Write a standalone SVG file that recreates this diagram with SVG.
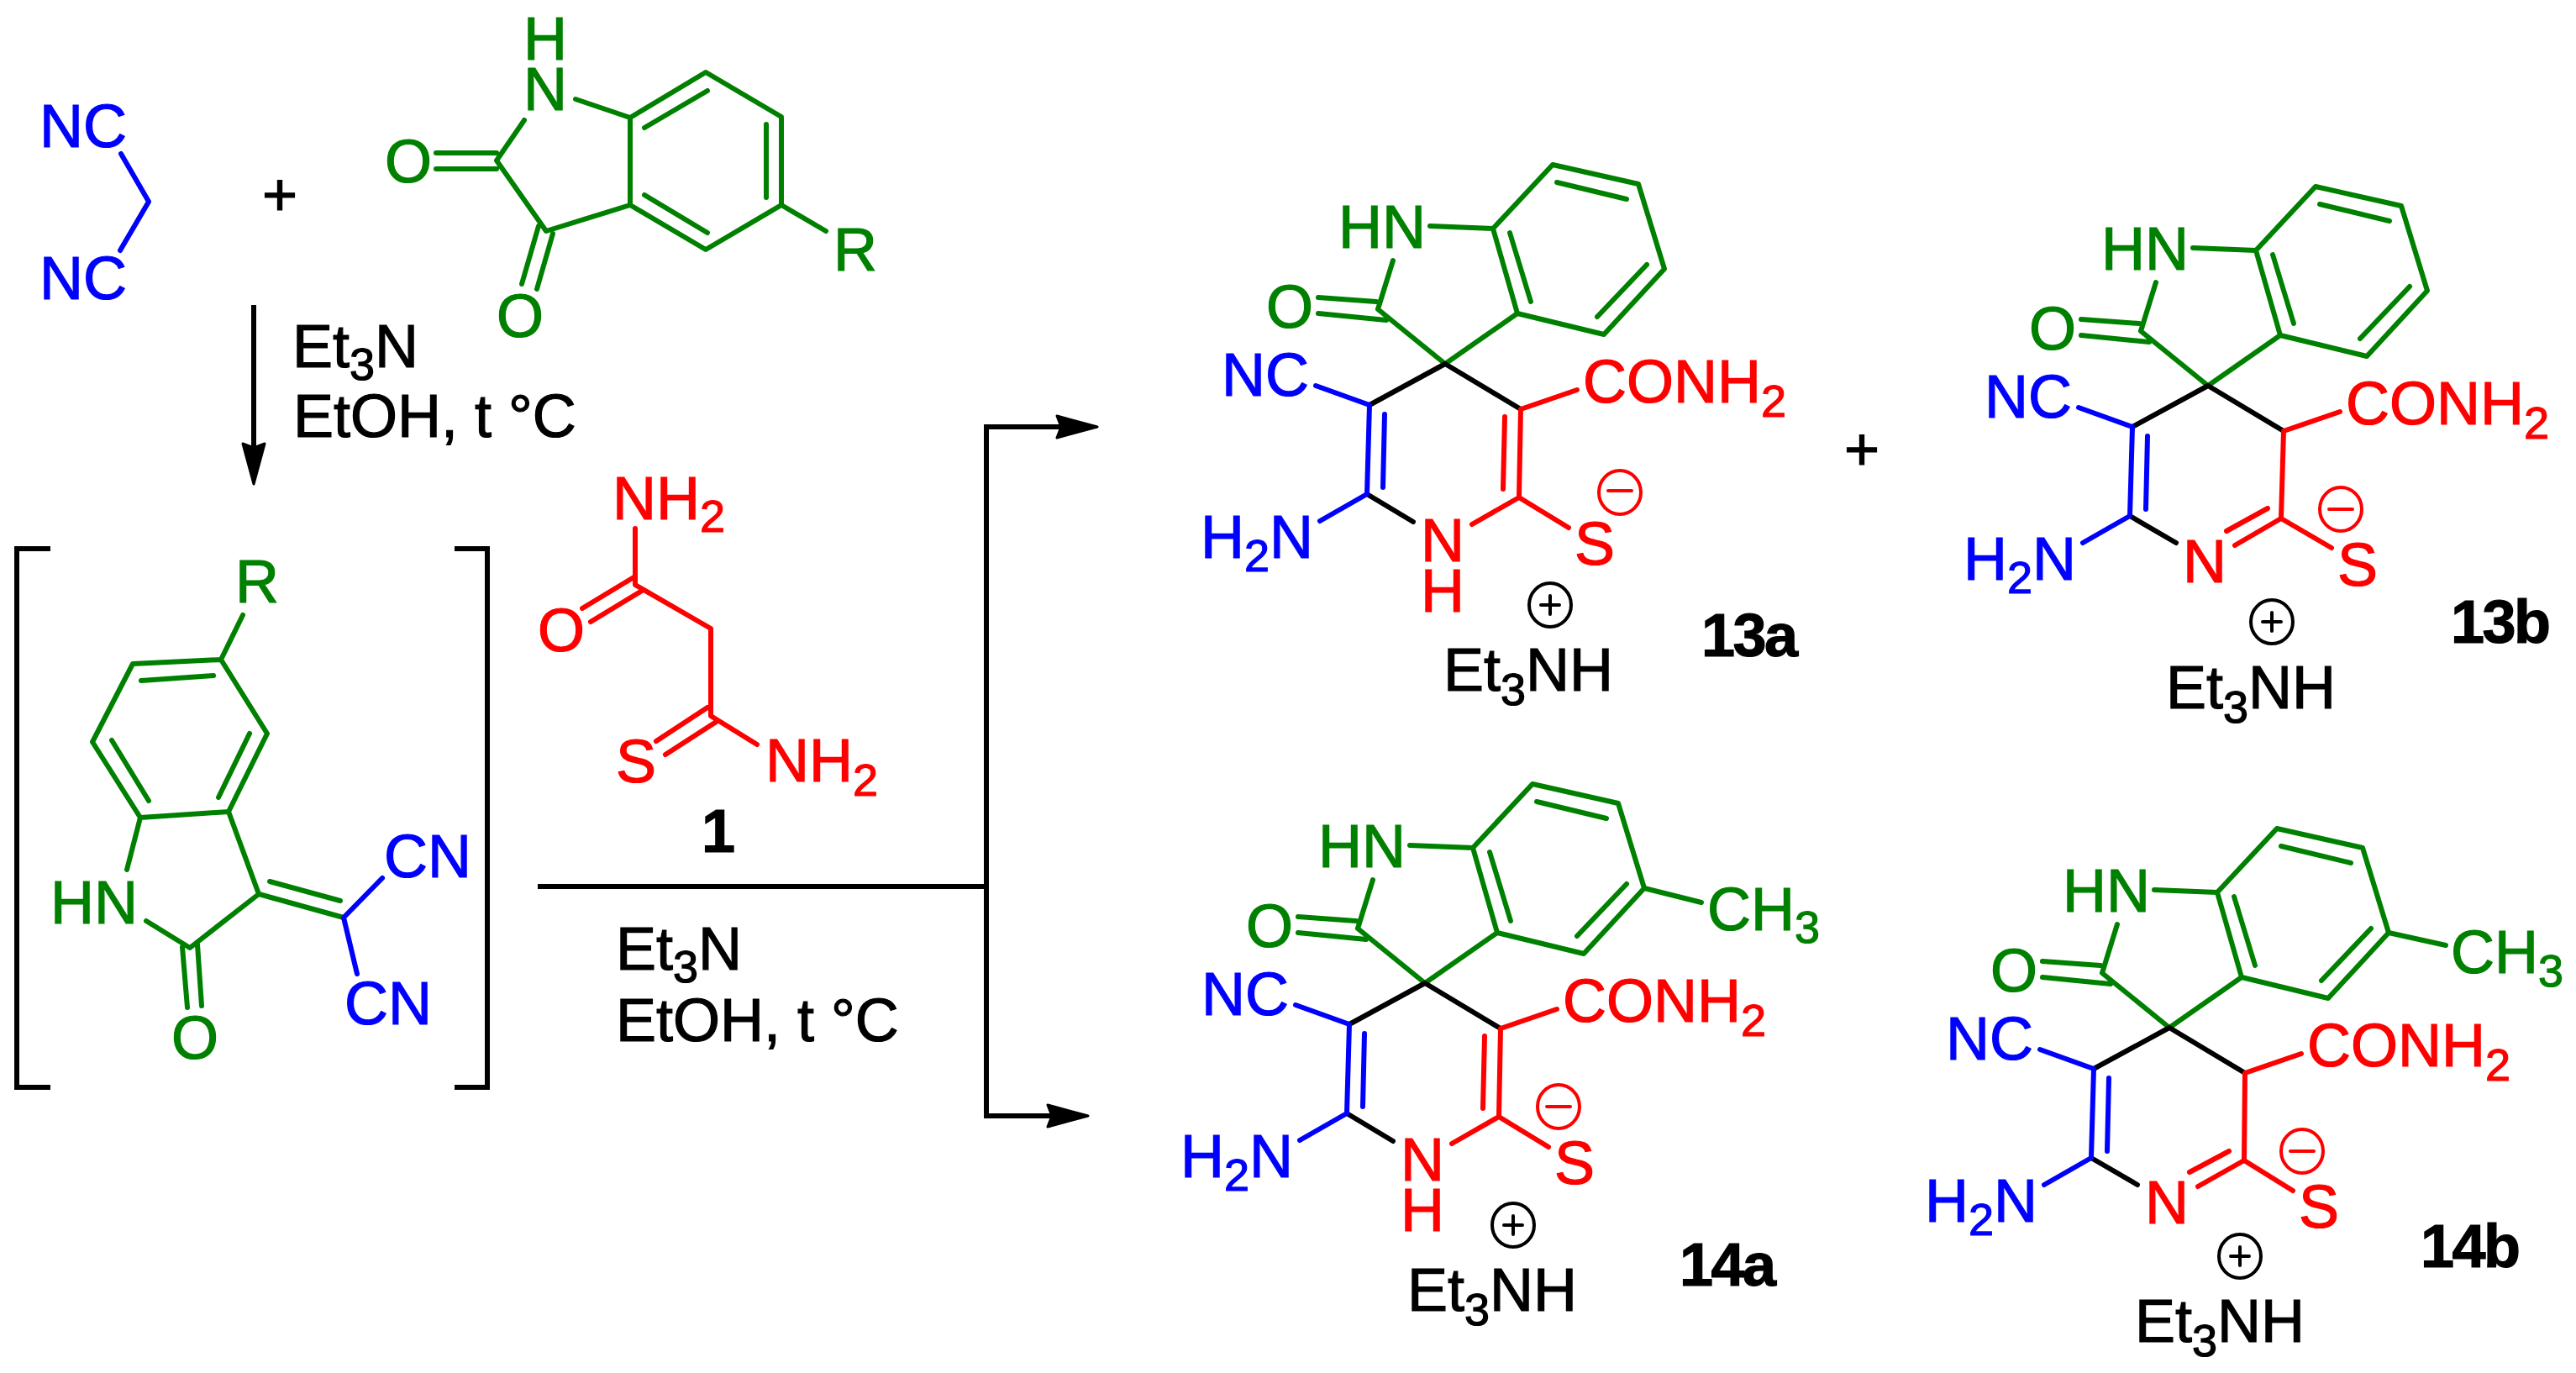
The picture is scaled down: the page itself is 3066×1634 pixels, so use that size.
<svg xmlns="http://www.w3.org/2000/svg" width="3066" height="1634" viewBox="0 0 3066 1634">
<style>
text{font-family:"Liberation Sans",Arial,sans-serif;font-size:72px;fill:#000;stroke:#000;stroke-width:1.2px}
.b{font-weight:bold;letter-spacing:-2.5px}
.s{font-size:54px}
.G{fill:#008000;stroke:#008000}.B{fill:#0000ff;stroke:#0000ff}.R{fill:#ff0000;stroke:#ff0000}
path,ellipse{fill:none;stroke-width:6;stroke-linejoin:round;stroke-linecap:round}
.lg{stroke:#008000}.lb{stroke:#0000ff}.lr{stroke:#ff0000}.lk{stroke:#000}
.c{stroke-width:4}
.con{stroke:#000;stroke-width:6;stroke-linecap:butt;stroke-linejoin:miter}
.ah{fill:#000;stroke:#000;stroke-width:3}
</style>
<defs>
<marker id="ah" markerUnits="userSpaceOnUse" markerWidth="54" markerHeight="34" refX="6" refY="17" orient="auto" viewBox="0 0 54 34">
<path class="ah" d="M50 17L2 4L7 17L2 30Z"/>
</marker>
</defs>
<rect width="3066" height="1634" fill="#fff"/>

<g id="connectors">
<path class="con" d="M302 363V532" marker-end="url(#ah)"/>
<path class="con" d="M640 1055H1174"/>
<path class="con" d="M1174 1328V508H1262" marker-end="url(#ah)"/>
<path class="con" d="M1171 1328H1251" marker-end="url(#ah)"/>
</g>

<g id="malononitrile">
<path class="lb" d="M144 183L177 240L143 298"/>
<text class="B" x="47" y="175">NC</text>
<text class="B" x="47" y="356">NC</text>
</g>
<g id="plus-1"><text x="312" y="256">+</text></g>
<g id="isatin">
<path class="lg" d="M685 118L750 140L840 86L930 139V244L840 297L750 244V140M767 152L842 108M912 148V235M767 232L842 277M750 244L650 275L591 191L624 143M519 182H591M519 201H591M641 269L621 338M658 278L639 344M930 244L983 275"/>
<text class="G" x="623" y="71">H</text>
<text class="G" x="623" y="131">N</text>
<text class="G" x="458" y="217">O</text>
<text class="G" x="591" y="401">O</text>
<text class="G" x="992" y="322">R</text>
</g>
<g id="conditions-1">
<text x="348" y="437">Et<tspan class="s" dy="15">3</tspan><tspan dy="-15">N</tspan></text>
<text x="349" y="520">EtOH, t °C</text>
</g>

<g id="bracket-left"><path class="con" d="M60 653H20V1294H60"/></g>
<g id="bracket-right"><path class="con" d="M541 653H580V1294H541"/></g>
<g id="intermediate">
<path class="lg" d="M289 732L263 785L158 790L110 883L167 973L272 966L318 873L263 785M168 810L254 804M133 881L177 953M297 873L260 949M167 973L151 1035M272 966L308 1064L226 1128L174 1096M217 1127L223 1199M235 1124L240 1197M308 1064L409 1092M321 1049L405 1072"/>
<path class="lb" d="M455 1045L409 1092L425 1159"/>
<text class="G" x="280" y="717">R</text>
<text class="G" x="60" y="1099">HN</text>
<text class="G" x="204" y="1260">O</text>
<text class="B" x="457" y="1044">CN</text>
<text class="B" x="410" y="1219">CN</text>
</g>

<g id="compound-1">
<path class="lr" d="M756 629V696L846 748V852L901 886M756 686L693 724M764 703L703 740M842 842L781 882M854 858L792 898"/>
<text class="R" x="729" y="618">NH<tspan class="s" dy="15">2</tspan></text>
<text class="R" x="640" y="775">O</text>
<text class="R" x="733" y="931">S</text>
<text class="R" x="911" y="930">NH<tspan class="s" dy="17">2</tspan></text>
<text class="b" x="835" y="1014">1</text>
</g>
<g id="conditions-2">
<text x="733" y="1154">Et<tspan class="s" dy="15">3</tspan><tspan dy="-15">N</tspan></text>
<text x="733" y="1239">EtOH, t °C</text>
</g>

<g id="product-13a">
<path class="lg" d="M1702 269L1777 272M1658 310L1640 368M1569 354L1638 359M1569 373L1650 381M1640 368L1720 433L1806 373M1777 272L1848 196L1950 219L1981 320L1909 398L1806 373L1777 272M1797 277L1822 359M1853 217L1936 237M1960 315L1901 377"/>
<path class="lk" d="M1630 482L1720 433L1810 487M1627 588L1682 621"/>
<path class="lb" d="M1566 459L1630 482L1627 588L1571 620M1648 493L1646 580"/>
<path class="lr" d="M1877 464L1810 487L1808 592M1791 496L1789 582M1752 624L1808 592L1867 628"/>
<text class="G" x="1593" y="295">HN</text>
<text class="G" x="1507" y="390">O</text>
<text class="B" x="1454" y="471">NC</text>
<text class="B" x="1429" y="664">H<tspan class="s" dy="16">2</tspan><tspan dy="-16">N</tspan></text>
<text class="R" x="1884" y="479">CONH<tspan class="s" dy="17">2</tspan></text>
<text class="R" x="1691" y="668">N</text>
<text class="R" x="1691" y="728">H</text>
<text class="R" x="1874" y="672">S</text>
<ellipse class="lr c" cx="1928" cy="586" rx="25" ry="26"/><path class="lr c" d="M1914 584H1942"/>
<ellipse class="lk c" cx="1845" cy="720" rx="25" ry="26"/><path class="lk c" d="M1834 720H1856M1845 709V731"/>
<text x="1718" y="822">Et<tspan class="s" dy="17">3</tspan><tspan dy="-17">NH</tspan></text>
<text class="b" x="2025" y="781">13a</text>
</g>

<g id="plus-2"><text x="2195" y="559">+</text></g>

<g id="product-13b">
<g transform="translate(908 26)">
<path class="lg" d="M1702 269L1777 272M1658 310L1640 368M1569 354L1638 359M1569 373L1650 381M1640 368L1720 433L1806 373M1777 272L1848 196L1950 219L1981 320L1909 398L1806 373L1777 272M1797 277L1822 359M1853 217L1936 237M1960 315L1901 377"/>
<path class="lk" d="M1630 482L1720 433L1810 487M1627 588L1682 620"/>
<path class="lb" d="M1566 459L1630 482L1627 588L1571 620M1648 493L1646 580"/>
<path class="lr" d="M1877 464L1810 487L1807 591L1752 623M1791 579L1742 606M1807 591L1867 626"/>
<text class="G" x="1593" y="295">HN</text>
<text class="G" x="1507" y="390">O</text>
<text class="B" x="1454" y="471">NC</text>
<text class="B" x="1429" y="664">H<tspan class="s" dy="16">2</tspan><tspan dy="-16">N</tspan></text>
<text class="R" x="1884" y="479">CONH<tspan class="s" dy="17">2</tspan></text>
<text class="R" x="1690" y="667">N</text>
</g>
<text class="R" x="2782" y="697">S</text>
<ellipse class="lr c" cx="2786" cy="606" rx="25" ry="26"/><path class="lr c" d="M2772 606H2800"/>
<ellipse class="lk c" cx="2704" cy="740" rx="25" ry="26"/><path class="lk c" d="M2693 740H2715M2704 729V751"/>
<text x="2578" y="843">Et<tspan class="s" dy="17">3</tspan><tspan dy="-17">NH</tspan></text>
<text class="b" x="2917" y="765">13b</text>
</g>

<g id="product-14a">
<g transform="translate(-24 737)">
<path class="lg" d="M1702 269L1777 272M1658 310L1640 368M1569 354L1638 359M1569 373L1650 381M1640 368L1720 433L1806 373M1777 272L1848 196L1950 219L1981 320L1909 398L1806 373L1777 272M1797 277L1822 359M1853 217L1936 237M1960 315L1901 377M1981 320L2049 337"/>
<path class="lk" d="M1630 482L1720 433L1810 487M1627 588L1682 621"/>
<path class="lb" d="M1566 459L1630 482L1627 588L1571 620M1648 493L1646 580"/>
<path class="lr" d="M1877 464L1810 487L1808 592M1791 496L1789 582M1752 624L1808 592L1867 628"/>
<text class="G" x="1593" y="295">HN</text>
<text class="G" x="1507" y="390">O</text>
<text class="B" x="1454" y="471">NC</text>
<text class="B" x="1429" y="664">H<tspan class="s" dy="16">2</tspan><tspan dy="-16">N</tspan></text>
<text class="R" x="1884" y="479">CONH<tspan class="s" dy="17">2</tspan></text>
<text class="R" x="1691" y="668">N</text>
<text class="R" x="1691" y="728">H</text>
<text class="R" x="1874" y="672">S</text>
</g>
<text class="G" x="2032" y="1107">CH<tspan class="s" dy="15">3</tspan></text>
<ellipse class="lr c" cx="1855" cy="1317" rx="25" ry="26"/><path class="lr c" d="M1841 1317H1869"/>
<ellipse class="lk c" cx="1801" cy="1458" rx="25" ry="26"/><path class="lk c" d="M1790 1458H1812M1801 1447V1469"/>
<text x="1675" y="1560">Et<tspan class="s" dy="17">3</tspan><tspan dy="-17">NH</tspan></text>
<text class="b" x="1999" y="1530">14a</text>
</g>

<g id="product-14b">
<g transform="translate(862 790)">
<path class="lg" d="M1702 269L1777 272M1658 310L1640 368M1569 354L1638 359M1569 373L1650 381M1640 368L1720 433L1806 373M1777 272L1848 196L1950 219L1981 320L1909 398L1806 373L1777 272M1797 277L1822 359M1853 217L1936 237M1960 315L1901 377M1981 320L2049 335"/>
<path class="lk" d="M1630 482L1720 433L1810 487M1627 588L1682 620"/>
<path class="lb" d="M1566 459L1630 482L1627 588L1571 620M1648 493L1646 580"/>
<path class="lr" d="M1877 464L1810 487L1809 591L1754 622M1791 580L1744 605M1809 591L1867 627"/>
<text class="G" x="1593" y="295">HN</text>
<text class="G" x="1507" y="390">O</text>
<text class="B" x="1454" y="471">NC</text>
<text class="B" x="1429" y="664">H<tspan class="s" dy="16">2</tspan><tspan dy="-16">N</tspan></text>
<text class="R" x="1884" y="479">CONH<tspan class="s" dy="17">2</tspan></text>
<text class="R" x="1691" y="666">N</text>
</g>
<text class="G" x="2917" y="1158">CH<tspan class="s" dy="16">3</tspan></text>
<text class="R" x="2736" y="1461">S</text>
<ellipse class="lr c" cx="2740" cy="1370" rx="25" ry="26"/><path class="lr c" d="M2726 1370H2754"/>
<ellipse class="lk c" cx="2666" cy="1495" rx="25" ry="26"/><path class="lk c" d="M2655 1495H2677M2666 1484V1506"/>
<text x="2541" y="1597">Et<tspan class="s" dy="17">3</tspan><tspan dy="-17">NH</tspan></text>
<text class="b" x="2881" y="1508">14b</text>
</g>
</svg>
